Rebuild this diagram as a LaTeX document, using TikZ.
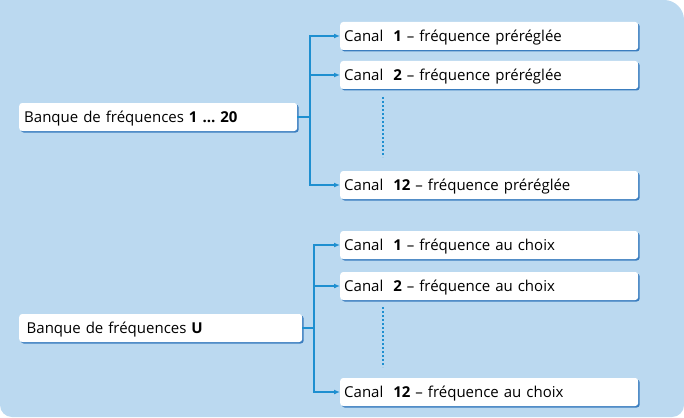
\documentclass[tikz,border=0pt]{standalone}
\usepackage{fontspec}
\setmainfont{Open Sans}
\usetikzlibrary{arrows.meta,shadows}
\definecolor{fondbleu}{HTML}{BBD9F0}
\definecolor{lignebleu}{HTML}{1E8FD0}
\definecolor{ombrebleu}{HTML}{3A7DBF}
\begin{document}
\begin{tikzpicture}[x=1pt, y=-1pt, >={Latex[length=6pt,width=5pt]},
    boite/.style={fill=white, rounded corners=3pt, anchor=west, inner sep=0pt,
        minimum height=28pt, text depth=0pt, font=\fontsize{15}{17}\selectfont,
        drop shadow={shadow xshift=1.5pt, shadow yshift=-1.5pt, fill=ombrebleu, opacity=1}},
    banque/.style={boite, minimum width=278pt, text width=268pt, align=left},
    canal/.style={boite, minimum width=298pt, text width=290pt, align=left},
    fleche/.style={lignebleu, line width=1.2pt},
    points/.style={lignebleu, line width=2pt, dash pattern=on 2pt off 2pt}]

    % Fond
    \fill[fondbleu] (0,200) [sharp corners] -- (0,0) [rounded corners=20pt] -- (684,0)
        [rounded corners=12pt] -- (684,417) -- (0,417) -- cycle;
    \useasboundingbox (0,0) rectangle (684,417);

    % Bloc 1 ... 20
    \node[banque] (b1) at (19,117) {Banque de fréquences \textbf{1 … 20}};
    \node[canal] (c1) at (340,36) {Canal\ \ \textbf{1} – fréquence préréglée};
    \node[canal] (c2) at (340,75) {Canal\ \ \textbf{2} – fréquence préréglée};
    \node[canal] (c12) at (340,185) {Canal\ \ \textbf{12} – fréquence préréglée};
    \coordinate (j1) at (310,117);
    \draw[fleche] (b1.east) -- (j1);
    \draw[fleche,->] (j1) |- (c1.west);
    \draw[fleche,->] (j1) |- (c12.west);
    \draw[fleche,->] (c2.west -| j1) -- (c2.west);
    \draw[points] (383,97) -- (383,157);

    % Bloc U
    \node[banque, minimum width=283pt] (b2) at (19,328) {Banque de fréquences \textbf{U}};
    \node[canal] (d1) at (340,245) {Canal\ \ \textbf{1} – fréquence au choix};
    \node[canal] (d2) at (340,286) {Canal\ \ \textbf{2} – fréquence au choix};
    \node[canal] (d12) at (340,392) {Canal\ \ \textbf{12} – fréquence au choix};
    \coordinate (j2) at (314,328);
    \draw[fleche] (b2.east) -- (j2);
    \draw[fleche,->] (j2) |- (d1.west);
    \draw[fleche,->] (j2) |- (d12.west);
    \draw[fleche,->] (d2.west -| j2) -- (d2.west);
    \draw[points] (383,307) -- (383,367);
\end{tikzpicture}
\end{document}
